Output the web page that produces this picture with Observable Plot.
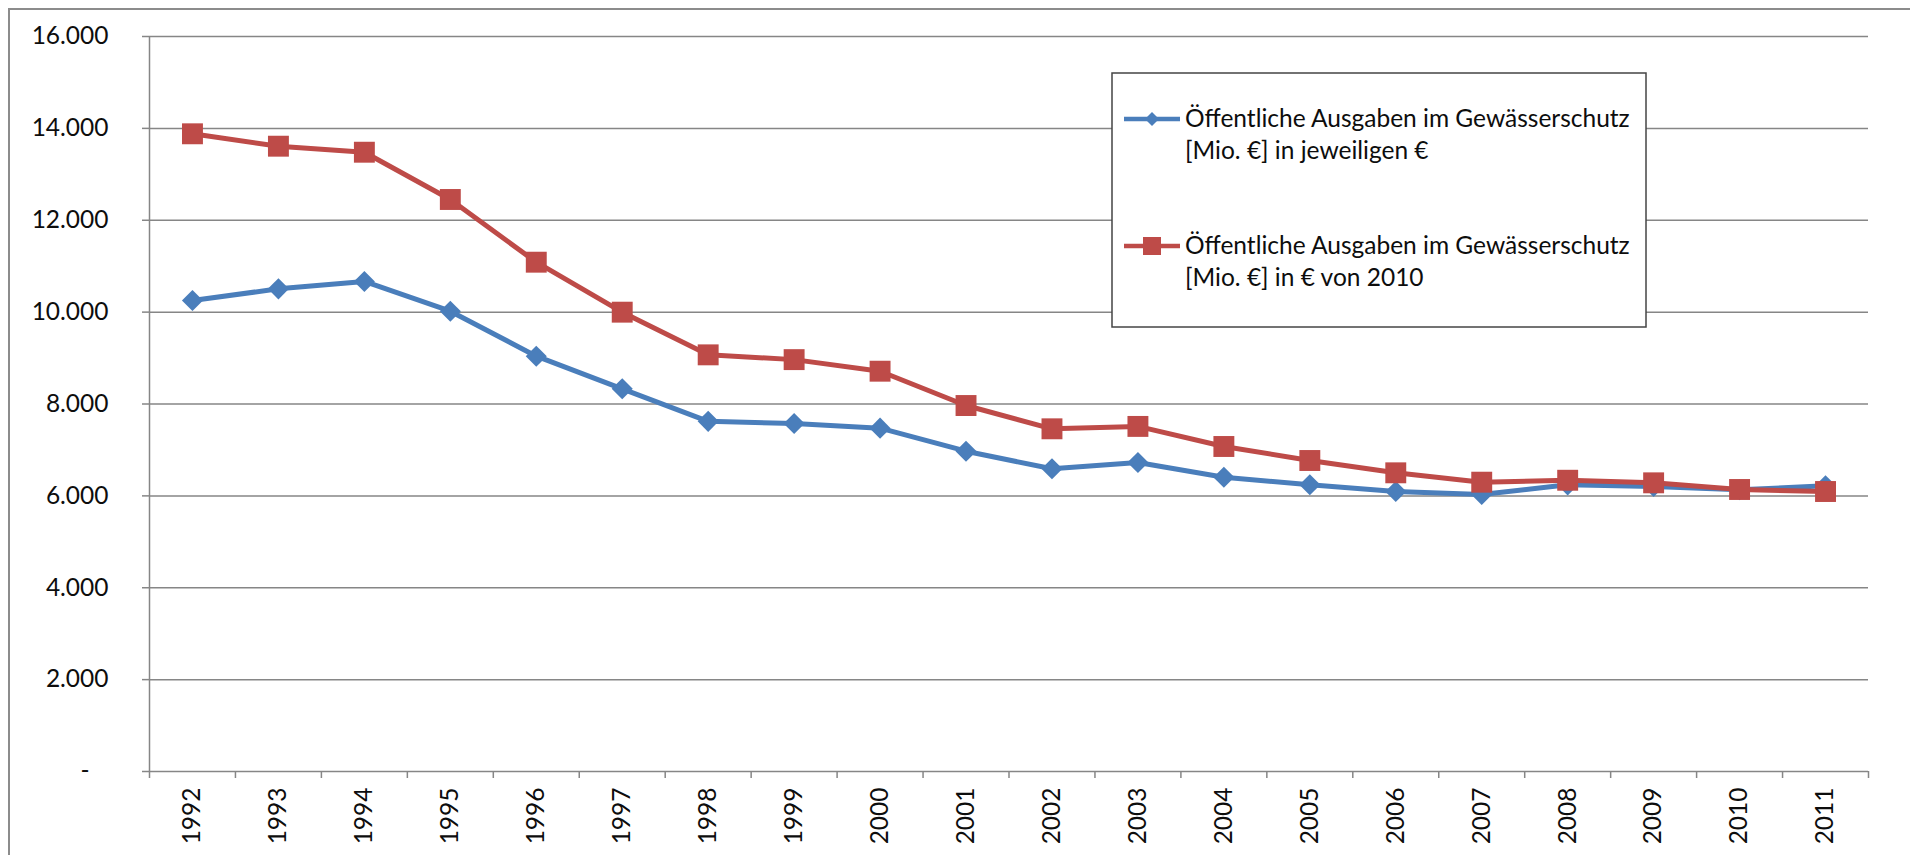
<!DOCTYPE html>
<html><head><meta charset="utf-8">
<script src="https://cdn.jsdelivr.net/npm/d3@7"></script>
<script src="https://cdn.jsdelivr.net/npm/@observablehq/plot@0.6"></script>
<style>
body{margin:0;background:#fff;}
#wrap{position:relative;width:1910px;height:855px;overflow:hidden;font-family:Lato,sans-serif;background:#fff;}
#border{position:absolute;left:8px;top:8px;width:2000px;height:1000px;border-left:2.5px solid #8c8c8c;border-top:2.5px solid #8c8c8c;}
#chart{position:absolute;left:0;top:0;}
#legend{position:absolute;left:1111px;top:72px;}
</style></head><body>
<div id="wrap"><div id="border"></div><div id="chart"></div><div id="legend"></div></div>
<script>
// Data
const years = [1992,1993,1994,1995,1996,1997,1998,1999,2000,2001,2002,2003,2004,2005,2006,2007,2008,2009,2010,2011];
const nominal = [10253,10507,10667,10020,9041,8331,7622,7575,7474,6973,6589,6725,6407,6241,6095,6030,6240,6205,6132,6220];
const real2010 = [13882,13612,13481,12452,11087,9999,9070,8966,8714,7967,7460,7512,7075,6770,6502,6298,6340,6284,6139,6095];
const yTicks = [0,2000,4000,6000,8000,10000,12000,14000,16000];
const seriesLines = [
  ["Öffentliche Ausgaben im Gewässerschutz", "[Mio. €] in jeweiligen €"],
  ["Öffentliche Ausgaben im Gewässerschutz", "[Mio. €] in € von 2010"]
];
const colors = ["#4A7EBB", "#BE4B48"];

const de = d3.formatLocale({decimal: ",", thousands: ".", grouping: [3], currency: ["", " €"]});
const fmt = de.format(",");

const blue = years.map((y, i) => ({year: y, value: nominal[i]}));
const red = years.map((y, i) => ({year: y, value: real2010[i]}));
const bounds = [...years.map(y => y - 0.5), years[years.length - 1] + 0.5];

const grid = "#868686";
const plot = Plot.plot({
  width: 1910, height: 855,
  marginLeft: 149, marginRight: 42, marginTop: 36, marginBottom: 84,
  style: {fontFamily: "Lato, sans-serif", fontSize: "24.5px", color: "#0d0d0d", background: "transparent"},
  x: {type: "linear", domain: [bounds[0], bounds[bounds.length - 1]], label: null},
  y: {domain: [0, 16000], label: null},
  marks: [
    Plot.gridY(yTicks, {stroke: grid, strokeOpacity: 1, strokeWidth: 1.5}),
    Plot.ruleX([bounds[0]], {stroke: grid, strokeWidth: 1.5}),
    Plot.axisY(yTicks, {tickSize: 7, tickPadding: 34, stroke: grid, strokeWidth: 1.5, label: null,
      tickFormat: d => d === 0 ? "-\u00a0\u00a0\u00a0" : fmt(d)}),
    Plot.axisX(bounds, {tickSize: 7, stroke: grid, strokeWidth: 1.5, tickFormat: () => "", label: null}),
    Plot.axisX(years, {tickSize: 0, tickPadding: 16, tickRotate: -90, tickFormat: d => String(d), label: null}),
    Plot.line(blue, {x: "year", y: "value", stroke: colors[0], strokeWidth: 5, strokeLinejoin: "round"}),
    Plot.dot(blue, {x: "year", y: "value", symbol: "diamond2", r: 9.5, fill: colors[0], stroke: null}),
    Plot.line(red, {x: "year", y: "value", stroke: colors[1], strokeWidth: 5, strokeLinejoin: "round"}),
    Plot.dot(red, {x: "year", y: "value", symbol: "square", r: 11.8, fill: colors[1], stroke: null})
  ]
});
document.getElementById("chart").appendChild(plot);

// Legend (inside plot area, as in the reference)
const lw = 537, lh = 257;
const svg = d3.select("#legend").append("svg").attr("width", lw).attr("height", lh)
  .style("font-family", "Lato, sans-serif").style("font-size", "24.5px");
svg.append("rect").attr("x", 1).attr("y", 1).attr("width", lw - 3).attr("height", lh - 3)
  .attr("fill", "#fff").attr("stroke", "#444").attr("stroke-width", 1.5);
const entryY = [47, 174];
seriesLines.forEach((lines, k) => {
  const g = svg.append("g").attr("transform", `translate(0,${entryY[k]})`);
  g.append("line").attr("x1", 13).attr("x2", 69).attr("y1", 0).attr("y2", 0)
    .attr("stroke", colors[k]).attr("stroke-width", 4.5);
  if (k === 0) {
    g.append("path").attr("d", "M41,-7L48,0L41,7L34,0Z").attr("fill", colors[k]);
  } else {
    g.append("rect").attr("x", 32).attr("y", -9).attr("width", 18).attr("height", 18).attr("fill", colors[k]);
  }
  lines.forEach((t, j) => {
    g.append("text").attr("x", 74).attr("y", 8 + j * 32).attr("fill", "#0d0d0d").text(t);
  });
});
</script>
</body></html>
